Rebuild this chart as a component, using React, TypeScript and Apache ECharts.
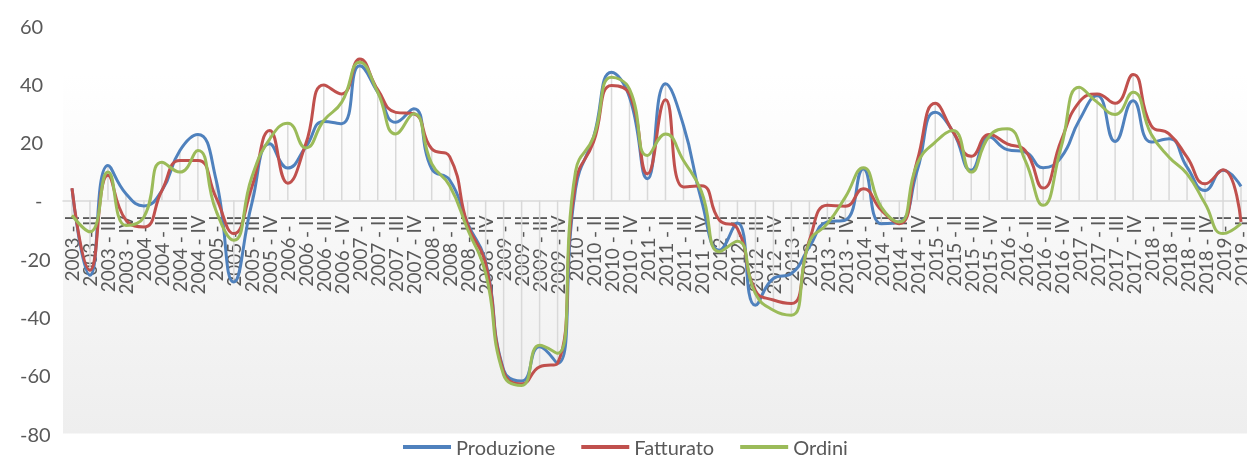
import React, { useEffect, useRef } from "react";
import * as echarts from "echarts";

const categories: string[] = [
  "2003 - I", "2003 - II", "2003 - III", "2003 - IV",
  "2004 - I", "2004 - II", "2004 - III", "2004 - IV",
  "2005 - I", "2005 - II", "2005 - III", "2005 - IV",
  "2006 - I", "2006 - II", "2006 - III", "2006 - IV",
  "2007 - I", "2007 - II", "2007 - III", "2007 - IV",
  "2008 - I", "2008 - II", "2008 - III", "2008 - IV",
  "2009 - I", "2009 - II", "2009 - III", "2009 - IV",
  "2010 - I", "2010 - II", "2010 - III", "2010 - IV",
  "2011 - I", "2011 - II", "2011 - III", "2011 - IV",
  "2012 - I", "2012 - II", "2012 - III", "2012 - IV",
  "2013 - I", "2013 - II", "2013 - III", "2013 - IV",
  "2014 - I", "2014 - II", "2014 - III", "2014 - IV",
  "2015 - I", "2015 - II", "2015 - III", "2015 - IV",
  "2016 - I", "2016 - II", "2016 - III", "2016 - IV",
  "2017 - I", "2017 - II", "2017 - III", "2017 - IV",
  "2018 - I", "2018 - II", "2018 - III", "2018 - IV",
  "2019 - I", "2019 - II",
];

const produzione: number[] = [
  4, -25.7, 12, 2.3, -1.9, 3.4, 17.1, 22.6, 7.4, -28,
  -1, 19.4, 11.1, 18.3, 27.1, 26.3, 46.2, 37.1, 26.8, 31.4,
  10.8, 7, -8, -21, -58.2, -62, -50.2, -55.9, 4, 21.7,
  44, 35.4, 7.4, 40, 25.7, 0, -17.1, -7.8, -36, -26.8,
  -25.1, -16, -7.4, -6.8, 10.8, -8, -7.4, 10.3, 30.2, 23.4,
  10.3, 21.7, 17.4, 16.6, 11.2, 14.8, 27.4, 36, 20.2, 34.2,
  20, 21.1, 11.4, 3.4, 10.3, 4.8,
];

const fatturato: number[] = [
  4.2, -24, 8.6, -6.8, -9.1, 3.4, 13.7, 13.7, 1.1, -11.4,
  4.6, 24, 5.9, 19.4, 39.6, 36.5, 48.5, 38, 30.2, 29.7,
  17.7, 15, -8.4, -21.7, -58.8, -63, -57.1, -55.9, 6, 20,
  39.4, 36.5, 9.1, 34.5, 4.6, 5, -6.8, -9.7, -31, -34.2,
  -35.4, -13.7, -1.7, -2, 4, -3.4, -8, 13.7, 33.3, 23.4,
  15.1, 22.6, 19.4, 17.1, 4.2, 20.5, 33.7, 36.5, 33.3, 43.2,
  25.7, 22.8, 14.8, 5.7, 10.5, -7.4,
];

const ordini: number[] = [
  -5.1, -10.8, 9.7, -8.6, -5.7, 13.1, 9.7, 17.1, -3.4, -13.7,
  8, 21.1, 26.5, 18, 27.4, 33.7, 47.4, 37.1, 22.8, 29.7,
  12.6, 5, -10, -25, -59.9, -63.5, -49.7, -52.5, 10, 21.7,
  42.2, 38.2, 15.4, 22.8, 13.7, 3, -17.6, -14, -32, -37.7,
  -39.4, -14.3, -8, 1.1, 11.2, -2.3, -7.4, 12.6, 20, 24,
  9.7, 22, 24.6, 13.7, -1.7, 18.3, 38.8, 33.7, 29.5, 37.1,
  22.8, 14.8, 9.1, -1.1, -11.4, -8,
];

const seriesNames = ["Produzione", "Fatturato", "Ordini"];
const seriesColors = ["#4F81BD", "#C0504D", "#9BBB59"];

const GRID_TOP = 25.5;
const GRID_BOTTOM = 21.5;
const GRID_H = 455 - GRID_TOP - GRID_BOTTOM;
const Y_MIN = -80;
const Y_MAX = 60;

export default function App() {
  const ref = useRef<HTMLDivElement>(null);

  useEffect(() => {
    if (!ref.current) return;
    const chart = echarts.init(ref.current, undefined, { renderer: "svg" });
    const all = [produzione, fatturato, ordini];
    const dropData = categories.map((_, i) => [
      i,
      Math.min(0, ...all.map((s) => s[i])),
      Math.max(0, ...all.map((s) => s[i])),
    ]);
    const zeroFromBottom = (GRID_H * (0 - Y_MIN)) / (Y_MAX - Y_MIN);

    chart.setOption({
      animation: false,
      textStyle: { fontFamily: "Lato" },
      grid: {
        left: 63,
        right: -3,
        top: GRID_TOP,
        bottom: GRID_BOTTOM,
        containLabel: false,
        outerBoundsMode: "none",
        show: true,
        borderWidth: 0,
        backgroundColor: new echarts.graphic.LinearGradient(0, 0, 0, 1, [
          { offset: 0, color: "#ffffff" },
          { offset: 0.12, color: "#ffffff" },
          { offset: 1, color: "#eeeeee" },
        ]),
      },
      legend: {
        data: seriesNames,
        left: 403,
        top: 437,
        padding: 0,
        icon: "rect",
        itemWidth: 48,
        itemHeight: 4,
        itemGap: 26,
        textStyle: { fontSize: 20, color: "#595959", fontFamily: "Lato", padding: [0, 0, 0, 0] },
      },
      xAxis: {
        type: "category",
        data: categories,
        boundaryGap: true,
        offset: -zeroFromBottom,
        axisLine: { onZero: false, lineStyle: { color: "#d9d9d9", width: 1.5 } },
        axisTick: { show: false },
        axisLabel: {
          interval: 0,
          rotate: 90,
          margin: 15,
          fontSize: 19,
          color: "#595959",
          fontFamily: "Lato",
        },
        splitLine: { show: false },
      },
      yAxis: {
        type: "value",
        min: Y_MIN,
        max: Y_MAX,
        interval: 20,
        axisLine: { show: false },
        axisTick: { show: false },
        splitLine: { show: false },
        axisLabel: {
          fontSize: 20,
          color: "#595959",
          fontFamily: "Lato",
          margin: 43,
          align: "left",
          formatter: (v: number) => (v === 0 ? "{z|-}" : String(v)),
          rich: {
            z: { fontSize: 20, color: "#595959", fontFamily: "Lato", padding: [0, 0, 0, 15] },
          },
        },
      },
      series: [
        {
          type: "custom",
          silent: true,
          z: 1,
          data: dropData,
          encode: { x: 0, y: [1, 2] },
          renderItem: (params: any, api: any) => {
            const p1 = api.coord([api.value(0), api.value(1)]);
            const p2 = api.coord([api.value(0), api.value(2)]);
            return {
              type: "line",
              shape: { x1: p1[0], y1: p1[1], x2: p2[0], y2: p2[1] },
              style: { stroke: "#d9d9d9", lineWidth: 1.5 },
            };
          },
        },
        ...[produzione, fatturato, ordini].map((d, k) => ({
          type: "line",
          name: seriesNames[k],
          data: d,
          z: 3,
          smooth: 0.5,
          symbol: "none",
          color: seriesColors[k],
          lineStyle: { width: 3, color: seriesColors[k] },
        })),
      ],
    });
    return () => chart.dispose();
  }, []);

  return (
    <div
      ref={ref}
      style={{ position: "fixed", left: 0, top: 0, width: 1247, height: 455 }}
    />
  );
}
